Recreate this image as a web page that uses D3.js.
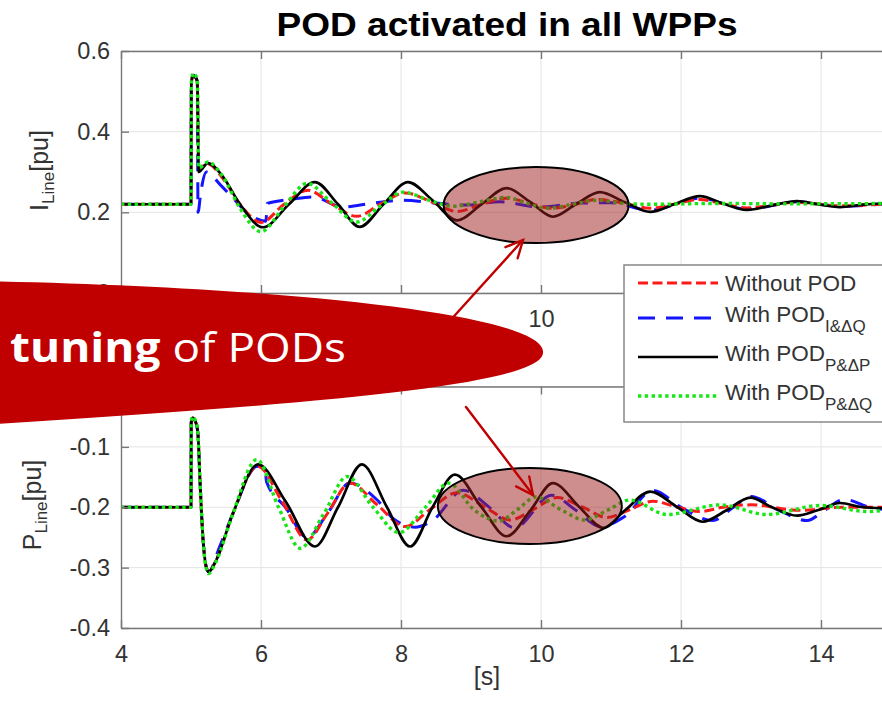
<!DOCTYPE html>
<html>
<head>
<meta charset="utf-8">
<script src="https://cdn.jsdelivr.net/npm/d3@7"></script>
<style>
  html, body { margin: 0; padding: 0; background: #fff; }
  svg { display: block; }
  text { font-family: "Liberation Sans", Arial, Helvetica, sans-serif; }
</style>
</head>
<body>
<svg id="chart" width="882" height="707"></svg>
<script>
// ---- Axis ticks -----------------------------------------------------------
const timeTicks = [4, 6, 8, 10, 12, 14];
const timeTickLabels = ["4", "6", "8", "10", "12", "14"];
// upper panel: only the label left uncovered by the callout and the legend
const upperTimeTickLabels = ["", "", "", "10", "", ""];
const currentTicks = [0, 0.2, 0.4, 0.6];
const currentTickLabels = ["0", "0.2", "0.4", "0.6"];
const powerTicks = [-0.4, -0.3, -0.2, -0.1, 0];
const powerTickLabels = ["-0.4", "-0.3", "-0.2", "-0.1", ""];

// ---- Line current I_Line [pu]  (time s, value) ---------------------------
const currentWithout = [[4,0.22],[5.0,0.22],[5.005,0.52],[5.03,0.54],[5.09,0.525],[5.11,0.31],[5.24,0.32],[5.45,0.285],[5.7,0.22],[6.0,0.175],[6.33,0.22],[6.67,0.255],[7.0,0.222],[7.37,0.19],[7.7,0.22],[8.06,0.248],[8.45,0.225],[8.8,0.202],[9.15,0.22],[9.5,0.235],[9.85,0.222],[10.15,0.21],[10.5,0.22],[10.8,0.232],[11.2,0.222],[11.56,0.21],[11.9,0.22],[12.27,0.232],[12.6,0.221],[12.94,0.211],[13.3,0.218],[13.66,0.225],[14.27,0.216],[15,0.222]];
const currentPodIdQ = [[4,0.22],[5.0,0.22],[5.005,0.52],[5.03,0.54],[5.09,0.525],[5.1,0.2],[5.14,0.25],[5.22,0.3],[5.41,0.27],[5.6,0.235],[5.84,0.194],[6.07,0.178],[6.09,0.222],[6.46,0.233],[6.75,0.238],[7.17,0.213],[7.6,0.223],[8.03,0.23],[8.5,0.223],[8.94,0.218],[9.41,0.226],[10.0,0.213],[10.56,0.223],[11.0,0.224],[11.56,0.205],[12.27,0.235],[12.94,0.208],[13.66,0.226],[14.27,0.215],[15,0.222]];
const currentPodPdP = [[4,0.22],[5.0,0.22],[5.005,0.52],[5.03,0.54],[5.09,0.525],[5.11,0.3],[5.24,0.322],[5.45,0.29],[5.7,0.22],[6.03,0.163],[6.4,0.22],[6.77,0.275],[7.1,0.22],[7.41,0.164],[7.75,0.22],[8.1,0.275],[8.45,0.23],[8.8,0.18],[9.15,0.22],[9.51,0.26],[9.85,0.225],[10.17,0.189],[10.5,0.22],[10.84,0.25],[11.2,0.225],[11.56,0.201],[11.9,0.22],[12.27,0.24],[12.6,0.222],[12.94,0.206],[13.3,0.217],[13.66,0.228],[13.95,0.22],[14.27,0.213],[14.6,0.219],[15,0.223]];
const currentPodPdQ = [[4,0.22],[5.0,0.22],[5.005,0.52],[5.03,0.545],[5.09,0.53],[5.11,0.31],[5.24,0.325],[5.45,0.29],[5.7,0.21],[6.0,0.152],[6.33,0.215],[6.66,0.272],[7.0,0.225],[7.37,0.176],[7.7,0.215],[8.03,0.25],[8.4,0.23],[8.75,0.215],[9.1,0.225],[9.5,0.237],[9.8,0.222],[10.1,0.21],[10.45,0.22],[10.8,0.23],[11.2,0.222],[11.6,0.22],[12.5,0.222],[13.5,0.221],[15,0.222]];

// ---- Line active power P_Line [pu]  (time s, value) ----------------------
const powerWithout = [[4,-0.2],[5.0,-0.2],[5.003,-0.06],[5.02,-0.052],[5.07,-0.06],[5.1,-0.08],[5.13,-0.16],[5.17,-0.25],[5.21,-0.295],[5.25,-0.307],[5.35,-0.29],[5.6,-0.21],[5.95,-0.132],[6.3,-0.19],[6.66,-0.254],[6.95,-0.21],[7.27,-0.16],[7.65,-0.195],[8.06,-0.232],[8.4,-0.205],[8.8,-0.176],[9.2,-0.2],[9.56,-0.221],[9.9,-0.203],[10.23,-0.184],[10.6,-0.2],[10.94,-0.217],[11.25,-0.205],[11.6,-0.19],[11.95,-0.2],[12.27,-0.207],[12.6,-0.2],[13.0,-0.196],[13.7,-0.205],[14.3,-0.2],[15,-0.2]];
const powerPodIdQ = [[4,-0.2],[5.0,-0.2],[5.003,-0.06],[5.02,-0.052],[5.07,-0.06],[5.1,-0.08],[5.13,-0.16],[5.17,-0.25],[5.21,-0.295],[5.25,-0.307],[5.41,-0.265],[5.6,-0.21],[5.95,-0.132],[6.06,-0.14],[6.08,-0.158],[6.35,-0.2],[6.66,-0.25],[6.95,-0.21],[7.27,-0.16],[7.66,-0.188],[7.9,-0.22],[8.2,-0.233],[8.45,-0.222],[8.89,-0.172],[9.27,-0.201],[9.62,-0.234],[10.15,-0.18],[10.5,-0.205],[10.85,-0.232],[11.2,-0.215],[11.6,-0.172],[12.0,-0.2],[12.45,-0.222],[12.75,-0.2],[13.0,-0.182],[13.4,-0.205],[13.8,-0.222],[14.05,-0.205],[14.33,-0.187],[14.7,-0.2],[15,-0.205]];
const powerPodPdP = [[4,-0.2],[5.0,-0.2],[5.003,-0.06],[5.02,-0.052],[5.07,-0.06],[5.1,-0.08],[5.13,-0.16],[5.17,-0.25],[5.21,-0.295],[5.25,-0.307],[5.35,-0.29],[5.6,-0.21],[5.96,-0.129],[6.35,-0.19],[6.77,-0.265],[7.1,-0.2],[7.44,-0.129],[7.8,-0.2],[8.13,-0.265],[8.45,-0.2],[8.77,-0.146],[9.15,-0.2],[9.51,-0.248],[9.85,-0.205],[10.17,-0.16],[10.55,-0.2],[10.89,-0.234],[11.2,-0.205],[11.56,-0.174],[11.95,-0.2],[12.31,-0.224],[12.65,-0.205],[12.99,-0.184],[13.3,-0.2],[13.66,-0.214],[13.95,-0.205],[14.27,-0.193],[14.6,-0.2],[15,-0.202]];
const powerPodPdQ = [[4,-0.2],[5.0,-0.2],[5.003,-0.06],[5.02,-0.05],[5.07,-0.058],[5.1,-0.08],[5.13,-0.16],[5.17,-0.25],[5.21,-0.297],[5.25,-0.31],[5.35,-0.292],[5.6,-0.21],[5.94,-0.121],[6.25,-0.2],[6.56,-0.268],[6.9,-0.21],[7.23,-0.149],[7.6,-0.2],[7.97,-0.242],[8.35,-0.2],[8.68,-0.16],[9.05,-0.205],[9.4,-0.223],[9.65,-0.205],[9.93,-0.183],[10.3,-0.205],[10.62,-0.221],[10.95,-0.205],[11.27,-0.188],[11.8,-0.212],[12.56,-0.196],[13.22,-0.212],[13.99,-0.197],[14.66,-0.207],[15,-0.204]];

const legendNames = ["Without POD", "With POD", "With POD", "With POD"];
const legendSubs = ["", "I&\u0394Q", "P&\u0394P", "P&\u0394Q"];

// ---- Drawing ----------------------------------------------------------------
const svg = d3.select("#chart");

const x = d3.scaleLinear().domain([4, 15]).range([121, 891]);
const yTop = d3.scaleLinear().domain([0, 0.6]).range([293, 51]);
const yBot = d3.scaleLinear().domain([-0.4, 0]).range([628, 386.5]);

const styles = [
  { color: "#ff1a1a", width: 3,   dash: "10,4.5" },
  { color: "#1414ff", width: 3,   dash: "17,11" },
  { color: "#000000", width: 2.7, dash: null },
  { color: "#17e617", width: 3.4, dash: "3.4,3.4" }
];
const topSeries = [currentWithout, currentPodIdQ, currentPodPdP, currentPodPdQ];
const botSeries = [powerWithout, powerPodIdQ, powerPodPdP, powerPodPdQ];
// draw order: blue, red, black, green on top
const drawOrder = [1, 0, 2, 3];

const axisColor = "#777";
const labelColor = "#333";

svg.append("defs").append("clipPath").attr("id", "plotclip")
  .append("rect").attr("x", 121).attr("y", 0).attr("width", 770).attr("height", 707);

function panel(y, yTicks, yTickLabels, xTickLabels, series) {
  const [y0, y1] = y.range();
  const g = svg.append("g");
  // grid
  g.selectAll(".gx").data(timeTicks.slice(1)).enter().append("line")
    .attr("x1", d => x(d)).attr("x2", d => x(d)).attr("y1", y0).attr("y2", y1)
    .attr("stroke", "#e4e4e4").attr("stroke-width", 1);
  g.selectAll(".gy").data(yTicks).enter().append("line")
    .attr("x1", x(4)).attr("x2", x(15)).attr("y1", d => y(d)).attr("y2", d => y(d))
    .attr("stroke", "#e4e4e4").attr("stroke-width", 1);

  // curves
  const line = d3.line().x(d => x(d[0])).y(d => y(d[1])).curve(d3.curveMonotoneX);
  const cg = g.append("g").attr("clip-path", "url(#plotclip)");
  drawOrder.forEach(i => {
    cg.append("path").datum(series[i])
      .attr("d", line).attr("fill", "none")
      .attr("stroke", styles[i].color).attr("stroke-width", styles[i].width)
      .attr("stroke-dasharray", styles[i].dash)
      .attr("stroke-linejoin", "round");
  });

  // axes
  const ax = g.append("g").attr("transform", `translate(0,${y0})`)
    .call(d3.axisBottom(x).tickValues(timeTicks).tickFormat((d, i) => xTickLabels[i])
      .tickSizeInner(-8).tickSizeOuter(0).tickPadding(17));
  const axT = g.append("g").attr("transform", `translate(0,${y1})`)
    .call(d3.axisTop(x).tickValues(timeTicks).tickFormat("").tickSizeInner(-8).tickSizeOuter(0));
  const ay = g.append("g").attr("transform", `translate(${x(4)},0)`)
    .call(d3.axisLeft(y).tickValues(yTicks).tickFormat((d, i) => yTickLabels[i])
      .tickSizeInner(-8).tickSizeOuter(0).tickPadding(11));
  [ax, axT, ay].forEach(a => {
    a.select(".domain").attr("stroke", axisColor).attr("stroke-width", 1.4);
    a.selectAll(".tick line").attr("stroke", axisColor).attr("stroke-width", 1.4);
    a.selectAll(".tick text").attr("fill", labelColor)
      .style("font-size", "23.5px").style("font-family", '"Liberation Sans", Arial, sans-serif');
  });
  return g;
}

panel(yTop, currentTicks, currentTickLabels, upperTimeTickLabels, topSeries);
panel(yBot, powerTicks, powerTickLabels, timeTickLabels, botSeries);

// y-axis titles
function yTitle(cx, cy, main, sub) {
  const t = svg.append("text")
    .attr("transform", `translate(${cx},${cy}) rotate(-90)`)
    .attr("text-anchor", "middle").attr("fill", labelColor)
    .style("font-size", "25px");
  t.append("tspan").text(main);
  t.append("tspan").text(sub).style("font-size", "17px").attr("dy", 6);
  t.append("tspan").text("[pu]").attr("dy", -6);
}
yTitle(48, 170.5, "I", "Line");
yTitle(41, 505, "P", "Line");

// x-axis title
svg.append("text").attr("x", 487).attr("y", 685).attr("text-anchor", "middle")
  .attr("fill", labelColor).style("font-size", "25px").text("[s]");

// title
svg.append("text").attr("x", 507).attr("y", 36).attr("text-anchor", "middle")
  .attr("textLength", 461).attr("lengthAdjust", "spacingAndGlyphs")
  .attr("fill", "#000").style("font-size", "33px").style("font-weight", "bold")
  .text("POD activated in all WPPs");

// highlighted regions
const hl = svg.append("g");
hl.append("ellipse").attr("cx", x(9.93)).attr("cy", yTop(0.218)).attr("rx", 92.5).attr("ry", 38)
  .attr("fill", "rgb(160,30,30)").attr("fill-opacity", 0.5).attr("stroke", "#000").attr("stroke-width", 2);
hl.append("ellipse").attr("cx", x(9.84)).attr("cy", yBot(-0.198)).attr("rx", 92).attr("ry", 38)
  .attr("fill", "rgb(160,30,30)").attr("fill-opacity", 0.5).attr("stroke", "#000").attr("stroke-width", 2);

// arrows
function arrow(x0, y0, x1, y1) {
  const a = Math.atan2(y1 - y0, x1 - x0);
  const L = 19, s = 0.45;
  const g = svg.append("g").attr("stroke", "#c00000").attr("stroke-width", 2.4)
    .attr("fill", "none").attr("stroke-linecap", "round");
  g.append("line").attr("x1", x0).attr("y1", y0).attr("x2", x1).attr("y2", y1);
  g.append("path").attr("d",
    `M${x1 - L * Math.cos(a - s)},${y1 - L * Math.sin(a - s)} L${x1},${y1} L${x1 - L * Math.cos(a + s)},${y1 - L * Math.sin(a + s)}`);
}
arrow(447, 324, 523, 240);
arrow(466, 407, 533, 495);

// callout shape
svg.append("path")
  .attr("d", "M-20,281 C300,287 545,316 543,352 C545,386 300,405 -20,425 Z")
  .attr("fill", "#c00000");
const ct = svg.append("text").attr("x", 10).attr("y", 362).attr("fill", "#fff")
  .attr("textLength", 336).attr("lengthAdjust", "spacingAndGlyphs")
  .style("font-family", '"Open Sans", "Noto Sans", sans-serif').style("font-size", "41px");
ct.append("tspan").text("tuning").style("font-weight", "bold");
ct.append("tspan").text(" of PODs");

// legend
const lg = svg.append("g");
lg.append("rect").attr("x", 624).attr("y", 265).attr("width", 300).attr("height", 157)
  .attr("fill", "#fff").attr("stroke", "#888").attr("stroke-width", 1.5);
const lineY = [283, 318, 357, 396];
const textY = [291, 322, 361, 400];
legendNames.forEach((name, i) => {
  lg.append("line").attr("x1", 638).attr("x2", 718).attr("y1", lineY[i]).attr("y2", lineY[i])
    .attr("stroke", styles[i].color).attr("stroke-width", styles[i].width)
    .attr("stroke-dasharray", styles[i].dash);
  const t = lg.append("text").attr("x", 725).attr("y", textY[i]).attr("fill", labelColor)
    .style("font-size", "22.5px");
  t.append("tspan").text(name);
  if (legendSubs[i]) t.append("tspan").text(legendSubs[i]).style("font-size", "17px").attr("dy", 10);
});
</script>
</body>
</html>
